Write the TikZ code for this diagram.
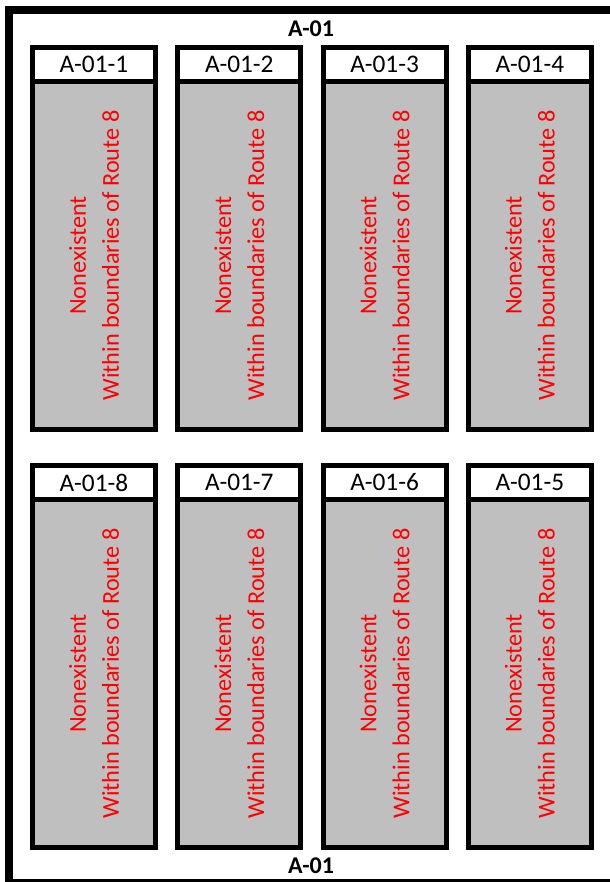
\documentclass[tikz,border=0pt]{standalone}
\usepackage{fontspec}
\setmainfont{Carlito}
\usetikzlibrary{positioning}
\definecolor{bodygray}{RGB}{191,191,191}
\definecolor{notered}{RGB}{255,0,0}
\tikzset{
  frame/.style={draw, line width=8*0.75pt},
  head/.style={draw, fill=white, line width=5*0.75pt, inner sep=0pt, outer sep=0pt,
    minimum width=123*0.75pt, minimum height=34*0.75pt,
    font=\fontsize{19}{21}\selectfont},
  body/.style={draw, fill=bodygray, line width=5*0.75pt, inner sep=0pt, outer sep=0pt,
    rotate=90, minimum width=348*0.75pt, minimum height=123*0.75pt,
    align=center, text=notered, font=\fontsize{18.2}{24.75}\selectfont},
  title/.style={font=\fontsize{18}{20}\selectfont\bfseries, inner sep=0pt}
}

\begin{document}
\begin{tikzpicture}[x=0.75pt, y=-0.75pt]
  \path[use as bounding box, clip] (0,0) rectangle (610,882);
  \fill[white] (0,0) rectangle (610,882);
  % outer area, cut off at the right and bottom
  \draw[frame] (9,9.5) rectangle (625,883);
  \node[title] (topname) at (311,29) {A-01};
  \node[title] (botname) at (311,866) {A-01};
  % the eight sections
  \foreach \i/\col/\row in {1/0/0,2/1/0,3/2/0,4/3/0,8/0/1,7/1/1,6/2/1,5/3/1} {
    \node[head] (h\i) at (94+145.3*\col, 64.5+418*\row) {A-01-\i};
    \node[body, anchor=east] (b\i) at (h\i.south) {Nonexistent\\Within boundaries of Route 8};
  }
\end{tikzpicture}
\end{document}
